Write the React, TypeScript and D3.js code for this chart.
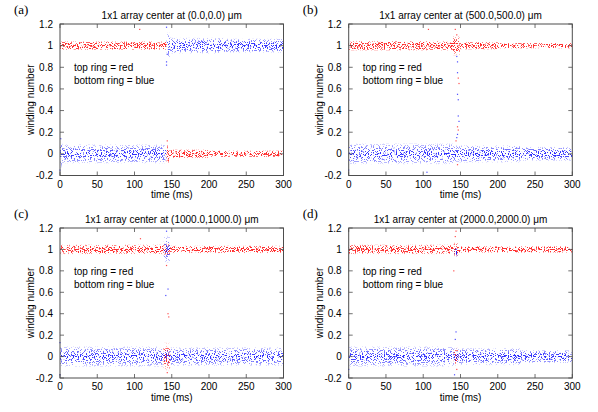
import React from "react";
import * as d3 from "d3";

const xTicks = [0, 50, 100, 150, 200, 250, 300];
const yTicks = [-0.2, 0, 0.2, 0.4, 0.6, 0.8, 1, 1.2];
const panelLetters = ["(a)", "(b)", "(c)", "(d)"];
const panelCenters = ["(0.0,0.0)", "(500.0,500.0)", "(1000.0,1000.0)", "(2000.0,2000.0)"];
const legendLines = ["top ring = red", "bottom ring = blue"];

// noise bands: [tStart ms, tEnd ms, centre, half-spread]
const redBandsA = [[0, 143, 1, 0.045], [143, 148, 0, 0.1], [148, 200, 0, 0.045], [200, 300, 0, 0.035]];
const blueBandsA = [[0, 3, 0, 0.16], [3, 143, 0, 0.11], [143, 148, 1, 0.15], [148, 220, 1, 0.09], [220, 300, 1, 0.08]];
const redBandsB = [[0, 140, 1, 0.05], [140, 149, 1, 0.1], [149, 200, 1, 0.04], [200, 300, 1, 0.03]];
const blueBandsB = [[0, 140, 0, 0.12], [140, 149, 0, 0.1], [149, 230, 0, 0.1], [230, 300, 0, 0.08]];
const redBandsC = [[0, 139, 1, 0.05], [139, 148, 1, 0.06], [139, 148, 0, 0.14], [148, 300, 1, 0.04]];
const blueBandsC = [[0, 139, 0, 0.12], [139, 148, 1, 0.16], [139, 148, 0, 0.08], [148, 300, 0, 0.11]];
const redBandsD = [[0, 141, 1, 0.05], [141, 147, 1, 0.07], [141, 147, 0, 0.09], [147, 300, 1, 0.035]];
const blueBandsD = [[0, 141, 0, 0.12], [141, 147, 0, 0.1], [142, 146, 0.97, 0.05], [147, 230, 0, 0.1], [230, 300, 0, 0.075]];

// isolated points: [t ms, winding number]
const redPointsA = [[107, 1.15], [144, 0.12], [145, -0.06]];
const bluePointsA = [[0, -0.15], [1, 0.14], [143, 0.85], [143, 0.82], [143, 1.17], [144, 0.92]];
const redPointsB = [[107, 1.15], [143, 1.15], [145, 1.1], [147, 0.7], [148, 0.65], [146, 0.25], [147, 0.22], [144, 0.12], [146, -0.1]];
const bluePointsB = [[0, -0.15], [145, 0.9], [146, 0.85], [146, 0.75], [146, 0.55], [147, 0.5], [147, 0.35], [148, 0.3], [146, 0.18], [145, 0.15], [105, -0.17]];
const redPointsC = [[108, 1.1], [145, 0.4], [146, 0.37], [144, -0.15], [143, 0.85]];
const bluePointsC = [[0, -0.17], [0, 0.13], [142, 0.57], [145, 0.63], [143, 1.17]];
const redPointsD = [[143, 1.12], [144, 1.17], [141, 0.8], [145, -0.12]];
const bluePointsD = [[144, 0.23], [143, 0.16], [142, -0.17], [0, -0.12]];

const redBands = [redBandsA, redBandsB, redBandsC, redBandsD];
const blueBands = [blueBandsA, blueBandsB, blueBandsC, blueBandsD];
const redPoints = [redPointsA, redPointsB, redPointsC, redPointsD];
const bluePoints = [bluePointsA, bluePointsB, bluePointsC, bluePointsD];

const cols = [
  { x0: 60, x1: 283.5 },
  { x0: 348.7, x1: 572.3 },
];
const rows = [
  { y0: 24, y1: 175.5 },
  { y0: 228, y1: 378 },
];

const SANS = "'Liberation Sans', Arial, Helvetica, sans-serif";
const SERIF = "'Liberation Serif', 'Times New Roman', serif";
const FRAME = "#4d4d4d";
const RED = "#ff0000";
const BLUE = "#0000ff";

function DotFilter({ id, color, seed, box, thr }) {
  const slope = 3;
  return (
    <filter
      id={id}
      filterUnits="userSpaceOnUse"
      x={box.x}
      y={box.y}
      width={box.w}
      height={box.h}
      colorInterpolationFilters="sRGB"
    >
      <feTurbulence type="fractalNoise" baseFrequency="0.83" numOctaves="2" seed={seed} result="noise" />
      <feColorMatrix
        in="noise"
        type="matrix"
        values="0 0 0 0 0  0 0 0 0 0  0 0 0 0 0  5 0 0 0 -2"
        result="ns"
      />
      <feComposite in="ns" in2="SourceAlpha" operator="arithmetic" k1="0" k2="1" k3="0.6" k4="-0.6" result="sum" />
      <feComponentTransfer in="sum" result="th">
        <feFuncA type="linear" slope={slope} intercept={-slope * thr} />
      </feComponentTransfer>
      <feFlood floodColor={color} floodOpacity={0.82} result="fl" />
      <feComposite in="fl" in2="th" operator="in" />
    </filter>
  );
}

function Panel({ i }) {
  const col = cols[i % 2];
  const row = rows[Math.floor(i / 2)];
  const x = d3.scaleLinear().domain([0, 300]).range([col.x0, col.x1]);
  const y = d3.scaleLinear().domain([-0.2, 1.2]).range([row.y1, row.y0]);
  const box = { x: col.x0, y: row.y0, w: col.x1 - col.x0, h: row.y1 - row.y0 };
  const rid = `dots-r-${i}`;
  const bid = `dots-b-${i}`;
  const tick = 4;
  const fmt = (v) => String(+v.toFixed(1));
  const bandRect = (b, k) => {
    const [t0, t1, c, s] = b;
    const dens = Math.min(1, 0.6 + 0.02 / s);
    return (
      <rect
        key={k}
        x={x(t0)}
        width={Math.max(1, x(t1) - x(t0))}
        y={y(c + s)}
        height={y(c - s) - y(c + s)}
        fill="url(#bandGrad)"
        fillOpacity={dens}
      />
    );
  };
  const midY = (row.y0 + row.y1) / 2;
  return (
    <g>
      <defs>
        <DotFilter id={rid} color={RED} seed={11 + i * 7} box={box} thr={0.42} />
        <DotFilter id={bid} color={BLUE} seed={3 + i * 5} box={box} thr={0.5} />
      </defs>
      <g filter={`url(#${rid})`}>{redBands[i].map(bandRect)}</g>
      <g filter={`url(#${bid})`}>{blueBands[i].map(bandRect)}</g>
      {redPoints[i].map((p, k) => (
        <rect key={"rp" + k} x={x(p[0]) - 0.6} y={y(p[1]) - 0.6} width={1.2} height={1.2} fill={RED} opacity={0.7} />
      ))}
      {bluePoints[i].map((p, k) => (
        <rect key={"bp" + k} x={x(p[0]) - 0.6} y={y(p[1]) - 0.6} width={1.2} height={1.2} fill={BLUE} opacity={0.7} />
      ))}
      {xTicks.map((t) => (
        <g key={"xt" + t}>
          <line x1={x(t)} x2={x(t)} y1={row.y1} y2={row.y1 - tick} stroke={FRAME} strokeWidth={0.8} />
          <line x1={x(t)} x2={x(t)} y1={row.y0} y2={row.y0 + tick} stroke={FRAME} strokeWidth={0.8} />
          <text x={x(t)} y={row.y1 + 12} textAnchor="middle" fontFamily={SANS} fontSize={10} fill="#000">
            {t}
          </text>
        </g>
      ))}
      {yTicks.map((t) => (
        <g key={"yt" + t}>
          <line x1={col.x0} x2={col.x0 + tick} y1={y(t)} y2={y(t)} stroke={FRAME} strokeWidth={0.8} />
          <line x1={col.x1} x2={col.x1 - tick} y1={y(t)} y2={y(t)} stroke={FRAME} strokeWidth={0.8} />
          <text x={col.x0 - 7} y={y(t) + 3.5} textAnchor="end" fontFamily={SANS} fontSize={10} fill="#000">
            {fmt(t)}
          </text>
        </g>
      ))}
      <rect x={col.x0} y={row.y0} width={col.x1 - col.x0} height={row.y1 - row.y0} fill="none" stroke={FRAME} strokeWidth={1} />
      <text x={(col.x0 + col.x1) / 2} y={row.y0 - 5} textAnchor="middle" fontFamily={SANS} fontSize={10} fill="#000">
        {`1x1 array center at ${panelCenters[i]} \u03bcm`}
      </text>
      <text x={col.x0 - 46} y={row.y0 - 10} fontFamily={SERIF} fontSize={13} fill="#000">
        {panelLetters[i]}
      </text>
      <text x={(col.x0 + col.x1) / 2} y={row.y1 + 22.5} textAnchor="middle" fontFamily={SANS} fontSize={10} fill="#000">
        time (ms)
      </text>
      <text
        transform={`translate(${col.x0 - 26},${midY}) rotate(-90)`}
        textAnchor="middle"
        fontFamily={SANS}
        fontSize={10}
        fill="#000"
      >
        winding number
      </text>
      {legendLines.map((s, k) => (
        <text key={"lg" + k} x={col.x0 + 14} y={y(0.8) + 4 + k * 13} fontFamily={SANS} fontSize={10} fill="#000">
          {s}
        </text>
      ))}
    </g>
  );
}

export default function App() {
  return (
    <svg width={598} height={412} style={{ position: "absolute", left: 0, top: 0, background: "#fff" }}>
      <defs>
        <linearGradient id="bandGrad" x1="0" y1="0" x2="0" y2="1">
          <stop offset="0" stopColor="#fff" stopOpacity="0" />
          <stop offset="0.2" stopColor="#fff" stopOpacity="0.55" />
          <stop offset="0.5" stopColor="#fff" stopOpacity="1" />
          <stop offset="0.8" stopColor="#fff" stopOpacity="0.55" />
          <stop offset="1" stopColor="#fff" stopOpacity="0" />
        </linearGradient>
      </defs>
      <rect x={0} y={0} width={598} height={412} fill="#fff" />
      {[0, 1, 2, 3].map((i) => (
        <Panel key={i} i={i} />
      ))}
    </svg>
  );
}
